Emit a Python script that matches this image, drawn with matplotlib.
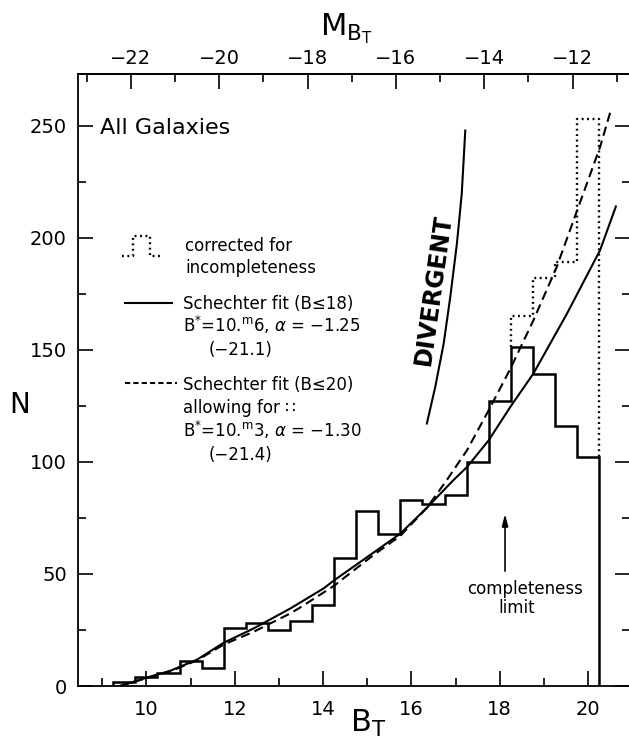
import matplotlib
matplotlib.use("Agg")
import matplotlib.pyplot as plt
from matplotlib.ticker import FixedLocator

# histogram of B_T, 0.5 mag bins
BIN_EDGES = [9.25, 9.75, 10.25, 10.75, 11.25, 11.75, 12.25, 12.75, 13.25, 13.75, 14.25, 14.75,
             15.25, 15.75, 16.25, 16.75, 17.25, 17.75, 18.25, 18.75, 19.25, 19.75, 20.25]
COUNTS = [2, 4, 6, 11, 8, 26, 28, 25, 29, 36, 57, 78, 68, 83, 81, 85, 100, 127, 151, 139, 116, 102]

# corrected for incompleteness (last four bins)
CORR_EDGES = [18.25, 18.75, 19.25, 19.75, 20.25]
CORR_COUNTS = [165, 182, 189, 253]

# Schechter fit (B<=18)
FIT18_B = [9.4, 10.0, 10.54, 11.15, 11.75, 12.43, 13.26, 14.01, 14.24, 15.07, 15.75, 16.35,
           16.95, 17.26, 17.75, 18.24, 18.76, 19.52, 20.27, 20.63]
FIT18_N = [0, 3.7, 6.8, 11.8, 19.3, 25.7, 34.6, 43.5, 47.0, 58.5, 68, 79.5,
           91.8, 97.7, 109.6, 124.5, 139.3, 166, 194.3, 213.9]

# Schechter fit (B<=20) allowing for incompleteness
FIT20_B = [9.4, 10.0, 10.54, 11.15, 11.75, 12.43, 13.26, 13.48, 14.24, 15.14, 15.75, 16.35,
           16.8, 17.26, 17.75, 18.24, 18.76, 19.29, 19.78, 20.27, 20.51]
FIT20_N = [0, 3.5, 6.5, 11.5, 18.5, 24.2, 32.4, 35.0, 44.6, 58.4, 67, 79.5,
           91.8, 105.2, 123, 141.5, 163, 186.9, 213.6, 240.3, 256.4]

# "divergent" line
DIV_B = [16.35, 16.54, 16.73, 16.88, 17.03, 17.14, 17.22]
DIV_N = [117.1, 133.4, 152.7, 173.5, 197.3, 219.6, 247.8]

DIST_MOD = 31.65
COMPLETENESS_B = 18.12

B_TICKS = [10, 12, 14, 16, 18, 20]
B_MINOR = [9, 11, 13, 15, 17, 19]
M_TICKS = [-22, -20, -18, -16, -14, -12]
M_MINOR = [-23, -21, -19, -17, -15, -13, -11]
N_TICKS = [0, 50, 100, 150, 200, 250]
N_MINOR = [25, 75, 125, 175, 225]

X_LIM = (8.45, 20.95)
Y_LIM = (0, 273)

MINUS = "\u2212"

plt.rcParams["font.family"] = ["DejaVu Sans"]
plt.rcParams["mathtext.fontset"] = "dejavusans"

W, H = 629, 740
fig = plt.figure(figsize=(W / 100, H / 100), dpi=100)
ax = fig.add_axes([78 / W, 54 / H, 552 / W, 612 / H])


def afrac(px, py):
    # pixel position in the 629x740 picture -> axes fraction
    return (px - 78) / 552, (686 - py) / 612


ax.stairs(COUNTS, BIN_EDGES, baseline=0, color="black", lw=1.8)

# dotted corrected histogram, between the tops of the solid bins at both ends
i0 = BIN_EDGES.index(CORR_EDGES[0])
xs = [CORR_EDGES[0]]
ys = [COUNTS[i0]]
for k, v in enumerate(CORR_COUNTS):
    xs += [CORR_EDGES[k], CORR_EDGES[k + 1]]
    ys += [v, v]
xs.append(CORR_EDGES[-1])
ys.append(COUNTS[-1])
ax.plot(xs, ys, color="black", lw=1.7, linestyle=(0, (0.8, 1.5)))

ax.plot(FIT18_B, FIT18_N, color="black", lw=1.5)
ax.plot(FIT20_B, FIT20_N, color="black", lw=1.5, linestyle=(0, (4.5, 2.5)))
ax.plot(DIV_B, DIV_N, color="black", lw=1.5)

ax.text(16.5, 177, "DIVERGENT", rotation=82, fontsize=17, fontweight="bold",
        ha="center", va="center", rotation_mode="anchor")

ax.annotate("", xy=(COMPLETENESS_B, 78), xytext=(COMPLETENESS_B, 50),
            arrowprops=dict(arrowstyle="-|>,head_width=0.18,head_length=0.7", color="black", lw=1.2))
ax.text(18.57, 43.4, "completeness", fontsize=12, ha="center", va="center")
ax.text(18.38, 34.8, "limit", fontsize=12, ha="center", va="center")

# legend block
tr = ax.transAxes
ax.text(*afrac(100, 128), "All Galaxies", transform=tr, fontsize=16, ha="left", va="center")

gx = [121.7, 133.3, 133.3, 150, 150, 161.7]
gy = [256, 256, 236, 236, 256, 256]
ax.plot([afrac(a, b)[0] for a, b in zip(gx, gy)], [afrac(a, b)[1] for a, b in zip(gx, gy)],
        transform=tr, color="black", lw=1.7, linestyle=(0, (0.8, 1.5)))
ax.text(*afrac(185, 246), "corrected for", transform=tr, fontsize=12, va="center")
ax.text(*afrac(185, 268), "incompleteness", transform=tr, fontsize=12, va="center")

x0, y0 = afrac(125, 303)
x1, _ = afrac(172, 303)
ax.plot([x0, x1], [y0, y0], transform=tr, color="black", lw=1.5)
ax.text(*afrac(183, 304), "Schechter fit (B\u226418)", transform=tr, fontsize=12, va="center")
ax.text(*afrac(183, 325), r"B$^{*}$=10.$^{\mathrm{m}}$6, $\alpha$ = " + MINUS + "1.25",
        transform=tr, fontsize=12, va="center")
ax.text(*afrac(209, 350), "(" + MINUS + "21.1)", transform=tr, fontsize=12, va="center")

x0, y0 = afrac(125, 383)
x1, _ = afrac(177, 383)
ax.plot([x0, x1], [y0, y0], transform=tr, color="black", lw=1.5, linestyle=(0, (2.5, 1.5)))
ax.text(*afrac(183, 385), "Schechter fit (B\u226420)", transform=tr, fontsize=12, va="center")
ax.text(*afrac(183, 408), "allowing for \u2237", transform=tr, fontsize=12, va="center")
ax.text(*afrac(183, 430), r"B$^{*}$=10.$^{\mathrm{m}}$3, $\alpha$ = " + MINUS + "1.30",
        transform=tr, fontsize=12, va="center")
ax.text(*afrac(209, 455), "(" + MINUS + "21.4)", transform=tr, fontsize=12, va="center")

# axes
ax.set_xlim(*X_LIM)
ax.set_ylim(*Y_LIM)
ax.xaxis.set_major_locator(FixedLocator(B_TICKS))
ax.xaxis.set_minor_locator(FixedLocator(B_MINOR))
ax.yaxis.set_major_locator(FixedLocator(N_TICKS))
ax.yaxis.set_minor_locator(FixedLocator(N_MINOR))
ax.tick_params(which="both", direction="in", right=True, width=1.2, labelsize=14)
ax.tick_params(which="major", length=11)
ax.tick_params(which="minor", length=6)
ax.tick_params(axis="x", pad=10)
ax.tick_params(axis="y", pad=8)
for sp in ax.spines.values():
    sp.set_linewidth(1.3)

sec = ax.secondary_xaxis("top", functions=(lambda b: b - DIST_MOD, lambda m: m + DIST_MOD))
sec.xaxis.set_major_locator(FixedLocator(M_TICKS))
sec.xaxis.set_minor_locator(FixedLocator(M_MINOR))
sec.tick_params(which="both", direction="in", width=1.2, labelsize=14, pad=4)
sec.tick_params(which="major", length=11)
sec.tick_params(which="minor", length=6)
sec.spines["top"].set_linewidth(1.3)

fig.text(350 / W, 1 - 732 / H, r"$\mathrm{B_T}$", fontsize=22, ha="left", va="baseline")
fig.text(320 / W, 1 - 35 / H, r"$\mathrm{M_{B_T}}$", fontsize=22, ha="left", va="baseline")
fig.text(20 / W, 1 - 405 / H, "N", fontsize=20, ha="center", va="center")

fig.savefig("out.png", dpi=100)
